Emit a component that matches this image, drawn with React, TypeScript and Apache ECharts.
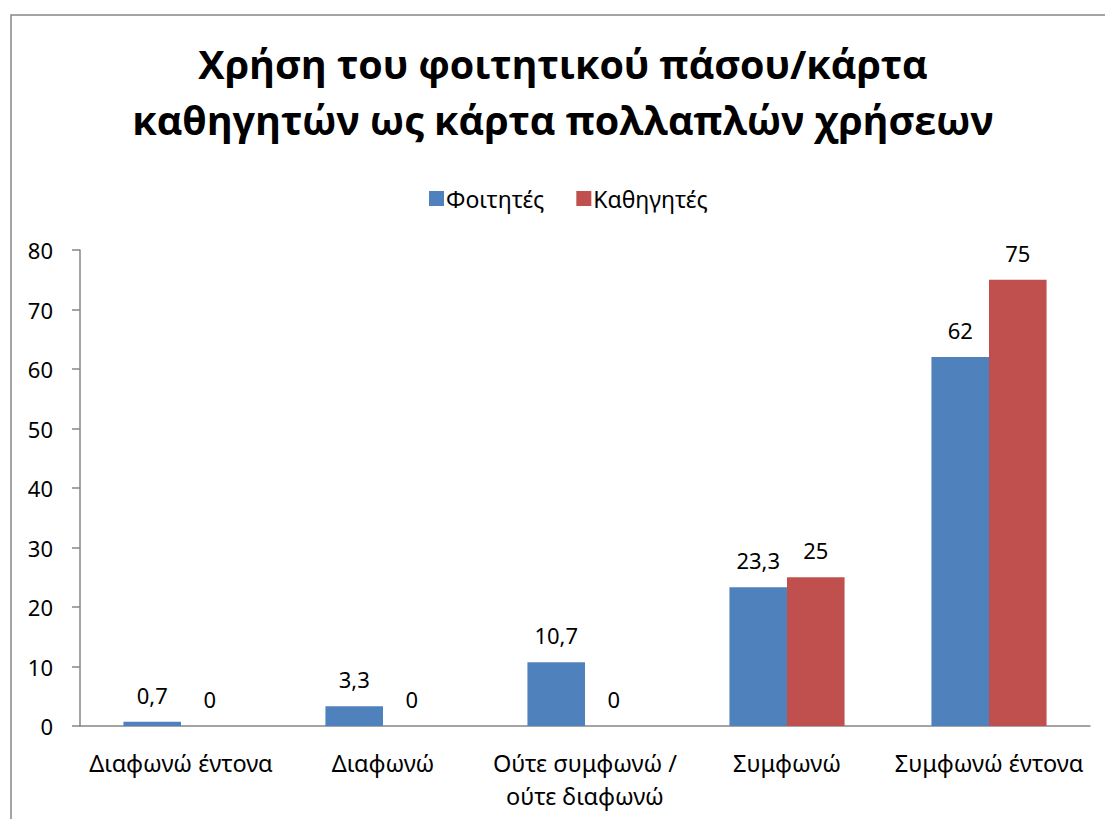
import React, { useEffect, useRef } from "react";
import * as echarts from "echarts";

const titleText = "Χρήση του φοιτητικού πάσου/κάρτα\nκαθηγητών ως κάρτα πολλαπλών χρήσεων";
const categories = [
  "Διαφωνώ έντονα",
  "Διαφωνώ",
  "Ούτε συμφωνώ /\nούτε διαφωνώ",
  "Συμφωνώ",
  "Συμφωνώ έντονα",
];
const seriesNames = ["Φοιτητές", "Καθηγητές"];
const students = [0.7, 3.3, 10.7, 23.3, 62];
const teachers = [0, 0, 0, 25, 75];
const yMin = 0;
const yMax = 80;
const yInterval = 10;

const FONT = "'Noto Sans', 'Open Sans', sans-serif";
const fmt = (p: any) => String(p.value).replace(".", ",");

export default function App() {
  const ref = useRef<HTMLDivElement>(null);
  useEffect(() => {
    if (!ref.current) return;
    const chart = echarts.init(ref.current, null, { renderer: "svg" });
    const labelStyle = {
      show: true,
      position: "top" as const,
      distance: 16,
      fontSize: 22,
      color: "#000",
      fontFamily: FONT,
      formatter: fmt,
    };
    chart.setOption({
      animation: false,
      backgroundColor: "#fff",
      textStyle: { fontFamily: FONT },
      title: {
        text: titleText,
        left: 563,
        top: 36,
        padding: 0,
        textAlign: "center",
        textStyle: {
          fontSize: 39.5,
          fontWeight: "bold",
          color: "#000",
          fontFamily: "'Open Sans', 'Noto Sans', sans-serif",
          lineHeight: 56,
        },
      },
      legend: {
        data: seriesNames,
        top: 182,
        left: 424,
        itemWidth: 15,
        itemHeight: 15,
        itemGap: 32,
        icon: "rect",
        textStyle: { fontSize: 23, color: "#000", fontFamily: FONT, padding: [0, 0, 0, -3] },
      },
      graphic: [
        {
          type: "rect",
          shape: { x: 11, y: 15, width: 1200, height: 1000 },
          style: { fill: "none", stroke: "#868686", lineWidth: 1.5 },
          silent: true,
          z: -1,
        },
      ],
      grid: { left: 80, right: 15, top: 250, bottom: 93, containLabel: false },
      xAxis: {
        type: "category",
        data: categories,
        axisLine: { lineStyle: { color: "#868686", width: 1.5 } },
        axisTick: { show: false },
        axisLabel: {
          fontSize: 23.5,
          color: "#000",
          fontFamily: FONT,
          margin: 20,
          lineHeight: 33,
          interval: 0,
        },
      },
      yAxis: {
        type: "value",
        min: yMin,
        max: yMax,
        interval: yInterval,
        splitLine: { show: false },
        axisLine: { show: true, lineStyle: { color: "#868686", width: 1.5 } },
        axisTick: { show: true, length: 8, lineStyle: { color: "#868686", width: 1.5 } },
        axisLabel: { fontSize: 22, color: "#000", fontFamily: FONT, margin: 27 },
      },
      series: [
        {
          name: seriesNames[0],
          type: "bar",
          data: students,
          itemStyle: { color: "#4F81BD" },
          barGap: "0%",
          barCategoryGap: "43%",
          label: labelStyle,
        },
        {
          name: seriesNames[1],
          type: "bar",
          data: teachers,
          itemStyle: { color: "#C0504D" },
          barGap: "0%",
          barCategoryGap: "43%",
          label: labelStyle,
        },
      ],
    });
    return () => chart.dispose();
  }, []);
  return (
    <div
      ref={ref}
      style={{ position: "absolute", left: 0, top: 0, width: 1105, height: 819 }}
    />
  );
}
